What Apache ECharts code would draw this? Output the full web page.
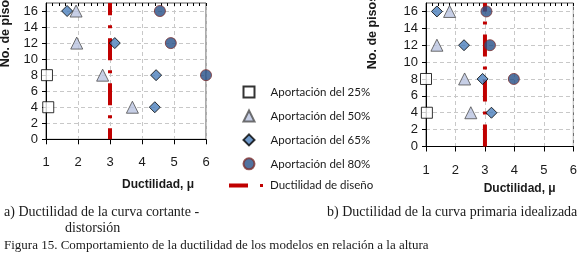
<!DOCTYPE html>
<html>
<head>
<meta charset="utf-8">
<script src="https://cdn.jsdelivr.net/npm/echarts@6/dist/echarts.min.js"></script>
<style>
html,body{margin:0;padding:0;background:#fff;}
#c{width:580px;height:262px;}
</style>
</head>
<body>
<div id="c"></div>
<script>
// ---- data ----
const floors = [16, 12, 8, 4];
const xTicks = [1, 2, 3, 4, 5, 6];
const yTicks = [0, 2, 4, 6, 8, 10, 12, 14, 16];
const seriesNames = ['Aportación del 25%', 'Aportación del 50%', 'Aportación del 65%', 'Aportación del 80%', 'Ductilidad de diseño'];
// a) cortante - distorsión
const a25L = [null, null, 1.03, 1.07];
const a50L = [1.94, 1.96, 2.77, 3.70];
const a65L = [1.66, 3.15, 4.44, 4.40];
const a80L = [4.56, 4.90, 6.00, null];
// b) curva primaria idealizada
const a25R = [null, null, 1.00, 1.03];
const a50R = [1.80, 1.37, 2.31, 2.52];
const a65R = [1.37, 2.29, 2.92, 3.22];
const a80R = [3.05, 3.17, 3.98, null];
const designDuctility = 3;
const floorRange = [0, 17];
const xRange = [1, 6];

// ---- chart ----
const pts = arr => arr.map((v, i) => v == null ? null : [v, floors[i]]).filter(p => p);
const tickFont = 'Liberation Sans';
const styles = [
  {symbol: 'rect', size: 11, itemStyle: {color: '#ffffff', borderColor: '#000000', borderWidth: 1}},
  {symbol: 'triangle', size: 12, itemStyle: {color: '#b9c3e0', borderColor: '#4d4d4d', borderWidth: 1}},
  {symbol: 'diamond', size: 11, itemStyle: {color: '#4a7ebb', borderColor: '#000000', borderWidth: 1}},
  {symbol: 'circle', size: 11, itemStyle: {color: '#254f87', borderColor: '#7a2e2e', borderWidth: 1}}
];
const grids = [
  {left: 46, top: 3, width: 160, height: 136.3},
  {left: 426, top: 3, width: 150, height: 143.5}
];
const xAxes = [], yAxes = [];
grids.forEach((g, gi) => {
  xAxes.push({
    gridIndex: gi, type: 'value', min: xRange[0], max: xRange[1], interval: 1,
    axisLine: {lineStyle: {color: '#000', width: 1}},
    axisTick: {show: true, inside: false, length: 5, lineStyle: {color: '#000'}},
    axisLabel: {customValues: xTicks, color: '#1a1a1a', fontFamily: tickFont, fontSize: 13, margin: 17},
    splitLine: {show: true, lineStyle: {color: '#c8c8c8', type: [4, 3], width: 1}},
    name: 'Ductilidad, μ', nameLocation: 'middle', nameGap: gi === 0 ? 39 : 36,
    nameTextStyle: {fontFamily: tickFont, fontWeight: 'bold', fontSize: 12, color: '#1a1a1a',
      padding: gi === 0 ? [0, 0, 0, 64] : [0, 0, 0, 40]}
  });
  xAxes.push({
    gridIndex: gi, type: 'value', min: xRange[0], max: xRange[1], interval: 0.2,
    axisLine: {show: false},
    axisTick: {show: true, inside: true, length: 3, lineStyle: {color: '#000'}},
    axisLabel: {show: false}, splitLine: {show: false}
  });
  yAxes.push({
    gridIndex: gi, type: 'value', min: floorRange[0], max: floorRange[1], interval: 2,
    axisLine: {show: true, lineStyle: {color: '#000', width: 1}},
    axisTick: {show: true, inside: false, length: 4, customValues: yTicks, lineStyle: {color: '#000'}},
    axisLabel: {customValues: yTicks, color: '#1a1a1a', fontFamily: tickFont, fontSize: 13, margin: 8},
    splitLine: {show: true, lineStyle: {color: '#c8c8c8', type: [4, 3], width: 1}}
  });
});

const sets = [[a25L, a50L, a65L, a80L], [a25R, a50R, a65R, a80R]];
const series = [];
sets.forEach((set, gi) => {
  series.push({
    name: seriesNames[4], type: 'line', xAxisIndex: gi * 2, yAxisIndex: gi,
    data: [[designDuctility, floorRange[0]], [designDuctility, floorRange[1]]],
    symbol: 'none', z: 2,
    lineStyle: {color: '#c00000', width: 4, type: [22, 10, 3, 10], dashOffset: gi === 0 ? 11 : 0, cap: 'butt'},
    itemStyle: {color: '#c00000'}
  });
  set.forEach((arr, si) => {
    const st = styles[si];
    series.push({
      name: seriesNames[si], type: 'scatter', xAxisIndex: gi * 2, yAxisIndex: gi,
      data: pts(arr), symbol: st.symbol, symbolSize: st.size, itemStyle: st.itemStyle,
      clip: false, z: 3 + si
    });
  });
});

const legendText = {fontFamily: 'Lato', fontSize: 11.5, color: '#1a1a1a'};
const chart = echarts.init(document.getElementById('c'), null, {renderer: 'canvas'});
chart.setOption({
  animation: false,
  backgroundColor: '#ffffff',
  grid: grids.map(g => Object.assign({show: true, borderColor: '#595959', borderWidth: 1, backgroundColor: 'transparent'}, g)),
  xAxis: xAxes,
  yAxis: yAxes,
  legend: [
    {
      orient: 'vertical', left: 242.5, top: 85.6, padding: 0, itemWidth: 11, itemHeight: 11, itemGap: 10.9,
      data: seriesNames.slice(0, 4),
      textStyle: Object.assign({padding: [0, 0, 0, 11]}, legendText)
    },
    {
      orient: 'vertical', left: 229, top: 179.6, padding: 0, itemWidth: 34, itemHeight: 4,
      data: [{name: seriesNames[4], icon: 'path://M0 0H19V4H0Z M31 0.5H34V3.5H31Z', itemStyle: {color: '#c00000'}}],
      textStyle: Object.assign({padding: [0, 0, 0, 2]}, legendText)
    }
  ],
  graphic: [
    {type: 'text', x: 6, y: 30, rotation: Math.PI / 2,
      style: {text: 'No. de pisos', font: 'bold 12.5px Liberation Sans', fill: '#1a1a1a', textAlign: 'center', textVerticalAlign: 'middle'}},
    {type: 'text', x: 373, y: 32, rotation: Math.PI / 2,
      style: {text: 'No. de pisos', font: 'bold 12.5px Liberation Sans', fill: '#1a1a1a', textAlign: 'center', textVerticalAlign: 'middle'}},
    {type: 'text', x: 4, y: 212,
      style: {text: 'a) Ductilidad de la curva cortante -', font: '14px Liberation Serif', fill: '#1a1a1a', textVerticalAlign: 'middle'}},
    {type: 'text', x: 65, y: 228,
      style: {text: 'distorsión', font: '14px Liberation Serif', fill: '#1a1a1a', textVerticalAlign: 'middle'}},
    {type: 'text', x: 327, y: 212,
      style: {text: 'b) Ductilidad de la curva primaria idealizada', font: '14px Liberation Serif', fill: '#1a1a1a', textVerticalAlign: 'middle'}},
    {type: 'text', x: 4, y: 246,
      style: {text: 'Figura 15. Comportamiento de la ductilidad de los modelos en relación a la altura', font: '13px Liberation Serif', fill: '#1a1a1a', textVerticalAlign: 'middle'}}
  ],
  series: series
});
</script>
</body>
</html>
